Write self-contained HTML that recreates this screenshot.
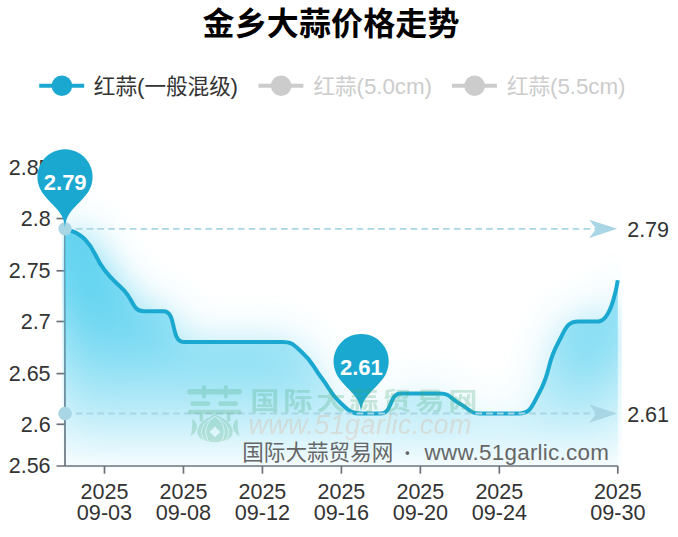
<!DOCTYPE html>
<html lang="zh"><head><meta charset="utf-8"><title>金乡大蒜价格走势</title>
<style>html,body{margin:0;padding:0;background:#fff}body{width:678px;height:537px;overflow:hidden;font-family:"Liberation Sans",sans-serif}svg{display:block}text{font-family:"Liberation Sans",sans-serif}text.cjk{font-family:"Liberation Sans","Noto Sans CJK SC",sans-serif}</style>
</head><body>
<svg width="678" height="537" viewBox="0 0 678 537">
<defs>
<linearGradient id="ag" gradientUnits="userSpaceOnUse" x1="0" y1="228.8" x2="0" y2="466.0"><stop offset="0" stop-color="#4ccdee" stop-opacity="0.84"/><stop offset="0.6" stop-color="#4ccdee" stop-opacity="0.33"/><stop offset="1" stop-color="#4ccdee" stop-opacity="0.03"/></linearGradient>
<linearGradient id="sg" gradientUnits="userSpaceOnUse" x1="0" y1="228.8" x2="0" y2="466.0"><stop offset="0" stop-color="#4ccdee" stop-opacity="1.0"/><stop offset="0.6" stop-color="#4ccdee" stop-opacity="0.38"/><stop offset="1" stop-color="#4ccdee" stop-opacity="0.0"/></linearGradient>
<filter id="blur" x="-20%" y="-50%" width="140%" height="200%"><feGaussianBlur stdDeviation="21"/></filter>
<clipPath id="gc"><rect x="62.3" y="100" width="559.4" height="369"/></clipPath>
</defs>
<rect width="100%" height="100%" fill="#fff"/>
<text class="cjk" x="202.5" y="34.5" font-size="32" font-weight="bold" fill="#000" textLength="257" lengthAdjust="spacing">金乡大蒜价格走势</text>
<line x1="39.2" y1="85.7" x2="84.2" y2="85.7" stroke="#1aa8d0" stroke-width="4"/>
<circle cx="61.900000000000006" cy="85.8" r="10.3" fill="#1aa8d0"/>
<text class="cjk" x="93.8" y="93.6" font-size="21.6" fill="#333">红蒜</text>
<text x="136.90" y="93.60" font-size="22.40" fill="#333" font-weight="normal" font-style="normal" >(</text>
<text class="cjk" x="144.4" y="93.6" font-size="21.6" fill="#333">一般混级</text>
<text x="230.38" y="93.60" font-size="22.40" fill="#333" font-weight="normal" font-style="normal" >)</text>
<line x1="258.4" y1="85.7" x2="303.4" y2="85.7" stroke="#ccc" stroke-width="4"/>
<circle cx="281.09999999999997" cy="85.8" r="10.3" fill="#ccc"/>
<text class="cjk" x="313.4" y="93.6" font-size="21.6" fill="#ccc">红蒜</text>
<text x="356.50" y="93.60" font-size="22.40" fill="#ccc" font-weight="normal" font-style="normal" textLength="75.42" lengthAdjust="spacing" >(5.0cm)</text>
<line x1="451.9" y1="85.7" x2="496.9" y2="85.7" stroke="#ccc" stroke-width="4"/>
<circle cx="474.59999999999997" cy="85.8" r="10.3" fill="#ccc"/>
<text class="cjk" x="506.9" y="93.6" font-size="21.6" fill="#ccc">红蒜</text>
<text x="550.00" y="93.60" font-size="22.40" fill="#ccc" font-weight="normal" font-style="normal" textLength="75.42" lengthAdjust="spacing" >(5.5cm)</text>
<g stroke="#6E7079" stroke-width="1.7" fill="none">
<path d="M65.0 167.1V466.0"/>
<path d="M56.5 466.0H617.8"/>
<path d="M56.5 167.10H65.0"/>
<path d="M56.5 218.55H65.0"/>
<path d="M56.5 270.80H65.0"/>
<path d="M56.5 321.50H65.0"/>
<path d="M56.5 373.60H65.0"/>
<path d="M56.5 424.30H65.0"/>
<path d="M104.49 466.0V473.7"/>
<path d="M183.46 466.0V473.7"/>
<path d="M262.43 466.0V473.7"/>
<path d="M341.40 466.0V473.7"/>
<path d="M420.37 466.0V473.7"/>
<path d="M499.34 466.0V473.7"/>
<path d="M617.80 466.0V473.7"/>
</g>
<text x="8.73" y="174.81" font-size="22.70" fill="#333" font-weight="normal" font-style="normal" textLength="41.87" lengthAdjust="spacingAndGlyphs" >2.85</text>
<text x="20.69" y="226.25" font-size="22.70" fill="#333" font-weight="normal" font-style="normal" textLength="29.91" lengthAdjust="spacingAndGlyphs" >2.8</text>
<text x="8.73" y="277.69" font-size="22.70" fill="#333" font-weight="normal" font-style="normal" textLength="41.87" lengthAdjust="spacingAndGlyphs" >2.75</text>
<text x="20.69" y="329.12" font-size="22.70" fill="#333" font-weight="normal" font-style="normal" textLength="29.91" lengthAdjust="spacingAndGlyphs" >2.7</text>
<text x="8.73" y="380.56" font-size="22.70" fill="#333" font-weight="normal" font-style="normal" textLength="41.87" lengthAdjust="spacingAndGlyphs" >2.65</text>
<text x="20.69" y="432.00" font-size="22.70" fill="#333" font-weight="normal" font-style="normal" textLength="29.91" lengthAdjust="spacingAndGlyphs" >2.6</text>
<text x="8.73" y="473.15" font-size="22.70" fill="#333" font-weight="normal" font-style="normal" textLength="41.87" lengthAdjust="spacingAndGlyphs" >2.56</text>
<text x="80.57" y="498.70" font-size="22.70" fill="#333" font-weight="normal" font-style="normal" textLength="47.84" lengthAdjust="spacingAndGlyphs" >2025</text>
<text x="76.83" y="519.70" font-size="22.70" fill="#333" font-weight="normal" font-style="normal" textLength="55.32" lengthAdjust="spacingAndGlyphs" >09-03</text>
<text x="159.54" y="498.70" font-size="22.70" fill="#333" font-weight="normal" font-style="normal" textLength="47.84" lengthAdjust="spacingAndGlyphs" >2025</text>
<text x="155.80" y="519.70" font-size="22.70" fill="#333" font-weight="normal" font-style="normal" textLength="55.32" lengthAdjust="spacingAndGlyphs" >09-08</text>
<text x="238.51" y="498.70" font-size="22.70" fill="#333" font-weight="normal" font-style="normal" textLength="47.84" lengthAdjust="spacingAndGlyphs" >2025</text>
<text x="234.77" y="519.70" font-size="22.70" fill="#333" font-weight="normal" font-style="normal" textLength="55.32" lengthAdjust="spacingAndGlyphs" >09-12</text>
<text x="317.48" y="498.70" font-size="22.70" fill="#333" font-weight="normal" font-style="normal" textLength="47.84" lengthAdjust="spacingAndGlyphs" >2025</text>
<text x="313.74" y="519.70" font-size="22.70" fill="#333" font-weight="normal" font-style="normal" textLength="55.32" lengthAdjust="spacingAndGlyphs" >09-16</text>
<text x="396.45" y="498.70" font-size="22.70" fill="#333" font-weight="normal" font-style="normal" textLength="47.84" lengthAdjust="spacingAndGlyphs" >2025</text>
<text x="392.71" y="519.70" font-size="22.70" fill="#333" font-weight="normal" font-style="normal" textLength="55.32" lengthAdjust="spacingAndGlyphs" >09-20</text>
<text x="475.42" y="498.70" font-size="22.70" fill="#333" font-weight="normal" font-style="normal" textLength="47.84" lengthAdjust="spacingAndGlyphs" >2025</text>
<text x="471.68" y="519.70" font-size="22.70" fill="#333" font-weight="normal" font-style="normal" textLength="55.32" lengthAdjust="spacingAndGlyphs" >09-24</text>
<text x="593.88" y="498.70" font-size="22.70" fill="#333" font-weight="normal" font-style="normal" textLength="47.84" lengthAdjust="spacingAndGlyphs" >2025</text>
<text x="590.14" y="519.70" font-size="22.70" fill="#333" font-weight="normal" font-style="normal" textLength="55.32" lengthAdjust="spacingAndGlyphs" >09-30</text>
<g clip-path="url(#gc)">
<path d="M65.00 228.84C65.00 228.84 77.28 231.35 84.74 239.13C97.02 251.92 93.38 255.53 104.49 269.99C113.13 281.24 114.36 280.28 124.23 290.56C134.10 300.85 132.31 311.14 143.97 311.14C152.05 311.14 156.80 311.14 163.71 311.14C176.54 311.14 170.63 342.00 183.46 342.00C190.37 342.00 193.33 342.00 203.20 342.00C213.07 342.00 213.07 342.00 222.94 342.00C232.81 342.00 232.81 342.00 242.69 342.00C252.56 342.00 252.56 342.00 262.43 342.00C272.30 342.00 272.89 342.00 282.17 342.00C292.63 342.00 293.88 344.96 301.91 352.29C313.62 362.96 311.79 365.15 321.66 378.01C331.53 390.87 329.64 393.16 341.40 403.73C349.39 410.90 350.73 413.50 361.14 413.50C370.47 413.50 372.75 413.50 380.89 413.50C392.49 413.50 389.02 393.44 400.63 393.44C408.77 393.44 410.50 393.44 420.37 393.44C430.24 393.44 430.83 393.44 440.11 393.44C450.58 393.44 449.93 398.68 459.86 403.73C469.68 408.71 469.19 413.50 479.60 413.50C488.93 413.50 489.47 413.50 499.34 413.50C509.21 413.50 510.95 413.50 519.09 413.50C530.69 413.50 532.15 405.53 538.83 393.44C551.90 369.78 545.56 365.73 558.57 342.00C565.30 329.72 566.65 321.42 578.31 321.42C586.39 321.42 592.10 321.42 598.06 321.42C611.84 321.42 617.80 280.27 617.80 280.27L617.80 466.00 L65.00 466.00 Z" fill="url(#sg)" filter="url(#blur)"/>
<path d="M65.00 228.84C65.00 228.84 77.28 231.35 84.74 239.13C97.02 251.92 93.38 255.53 104.49 269.99C113.13 281.24 114.36 280.28 124.23 290.56C134.10 300.85 132.31 311.14 143.97 311.14C152.05 311.14 156.80 311.14 163.71 311.14C176.54 311.14 170.63 342.00 183.46 342.00C190.37 342.00 193.33 342.00 203.20 342.00C213.07 342.00 213.07 342.00 222.94 342.00C232.81 342.00 232.81 342.00 242.69 342.00C252.56 342.00 252.56 342.00 262.43 342.00C272.30 342.00 272.89 342.00 282.17 342.00C292.63 342.00 293.88 344.96 301.91 352.29C313.62 362.96 311.79 365.15 321.66 378.01C331.53 390.87 329.64 393.16 341.40 403.73C349.39 410.90 350.73 413.50 361.14 413.50C370.47 413.50 372.75 413.50 380.89 413.50C392.49 413.50 389.02 393.44 400.63 393.44C408.77 393.44 410.50 393.44 420.37 393.44C430.24 393.44 430.83 393.44 440.11 393.44C450.58 393.44 449.93 398.68 459.86 403.73C469.68 408.71 469.19 413.50 479.60 413.50C488.93 413.50 489.47 413.50 499.34 413.50C509.21 413.50 510.95 413.50 519.09 413.50C530.69 413.50 532.15 405.53 538.83 393.44C551.90 369.78 545.56 365.73 558.57 342.00C565.30 329.72 566.65 321.42 578.31 321.42C586.39 321.42 592.10 321.42 598.06 321.42C611.84 321.42 617.80 280.27 617.80 280.27L617.80 466.00 L65.00 466.00 Z" fill="url(#ag)"/>
<path d="M65.00 228.84C65.00 228.84 77.28 231.35 84.74 239.13C97.02 251.92 93.38 255.53 104.49 269.99C113.13 281.24 114.36 280.28 124.23 290.56C134.10 300.85 132.31 311.14 143.97 311.14C152.05 311.14 156.80 311.14 163.71 311.14C176.54 311.14 170.63 342.00 183.46 342.00C190.37 342.00 193.33 342.00 203.20 342.00C213.07 342.00 213.07 342.00 222.94 342.00C232.81 342.00 232.81 342.00 242.69 342.00C252.56 342.00 252.56 342.00 262.43 342.00C272.30 342.00 272.89 342.00 282.17 342.00C292.63 342.00 293.88 344.96 301.91 352.29C313.62 362.96 311.79 365.15 321.66 378.01C331.53 390.87 329.64 393.16 341.40 403.73C349.39 410.90 350.73 413.50 361.14 413.50C370.47 413.50 372.75 413.50 380.89 413.50C392.49 413.50 389.02 393.44 400.63 393.44C408.77 393.44 410.50 393.44 420.37 393.44C430.24 393.44 430.83 393.44 440.11 393.44C450.58 393.44 449.93 398.68 459.86 403.73C469.68 408.71 469.19 413.50 479.60 413.50C488.93 413.50 489.47 413.50 499.34 413.50C509.21 413.50 510.95 413.50 519.09 413.50C530.69 413.50 532.15 405.53 538.83 393.44C551.90 369.78 545.56 365.73 558.57 342.00C565.30 329.72 566.65 321.42 578.31 321.42C586.39 321.42 592.10 321.42 598.06 321.42C611.84 321.42 617.80 280.27 617.80 280.27" fill="none" stroke="#1aa8d0" stroke-width="4" stroke-linejoin="round" stroke-linecap="butt"/>
</g>
<path d="M65.0 228.84H596" stroke="#a9d6e4" stroke-width="1.8" stroke-dasharray="6.7 4.1" fill="none"/>
<circle cx="65.0" cy="228.84" r="6.7" fill="#a9d6e4"/>
<path d="M617.2 228.84L589.2 219.64L596.2 228.84L589.2 238.04Z" fill="#a9d6e4"/>
<text x="627.20" y="236.84" font-size="22.70" fill="#333" font-weight="normal" font-style="normal" textLength="41.87" lengthAdjust="spacingAndGlyphs" >2.79</text>
<path d="M65.0 413.50H596" stroke="#a9d6e4" stroke-width="1.8" stroke-dasharray="6.7 4.1" fill="none"/>
<circle cx="65.0" cy="413.50" r="6.7" fill="#a9d6e4"/>
<path d="M617.2 413.50L589.2 404.30L596.2 413.50L589.2 422.70Z" fill="#a9d6e4"/>
<text x="627.20" y="421.50" font-size="22.70" fill="#333" font-weight="normal" font-style="normal" textLength="41.87" lengthAdjust="spacingAndGlyphs" >2.61</text>
<text class="cjk" x="242.2" y="460.2" font-size="21.6" fill="#666">国际大蒜贸易网</text>
<circle cx="407.4" cy="453.1" r="1.9" fill="#666"/>
<text x="424.60" y="460.20" font-size="22.40" fill="#666" font-weight="normal" font-style="normal" textLength="184.20" lengthAdjust="spacing" >www.51garlic.com</text>
<path d="M40.11 188.78 A27.60 27.60 0 1 1 89.89 188.78C82.74 203.72 65.00 209.52 65.00 228.84C65.00 209.52 47.26 203.72 40.11 188.78 Z" fill="#1aa8d0"/>
<text x="43.80" y="189.94" font-size="22.00" fill="#fff" font-weight="bold" font-style="normal" textLength="42.80" lengthAdjust="spacing" >2.79</text>
<path d="M336.25 373.44 A27.60 27.60 0 1 1 386.04 373.44C378.88 388.38 361.14 394.18 361.14 413.50C361.14 394.18 343.40 388.38 336.25 373.44 Z" fill="#1aa8d0"/>
<text x="339.94" y="374.60" font-size="22.00" fill="#fff" font-weight="bold" font-style="normal" textLength="42.80" lengthAdjust="spacing" >2.61</text>
<g opacity="0.25">
<g stroke="#44a873" stroke-linecap="round" fill="none">
<path stroke-width="5.6" d="M190 391.7H239.1"/>
<path stroke-width="4.1" d="M204.1 387V396.6M225.8 387V396.6"/>
<path stroke-width="4.8" d="M192.7 403.7H208M220.6 403.7H235.6"/>
<path stroke-width="4.5" d="M190.3 411.9H239.2"/>
<path stroke-width="3.6" stroke-linecap="butt" d="M201.3 413V421.5M228.6 413V421.5"/>
</g>
<g fill="#44a873">
<path d="M192.4 418.8C198.6 423 199.2 431.5 190.3 436.3C192.1 431 192.4 425 192.4 418.8Z"/>
<path d="M237.6 418.8C231.4 423 230.8 431.5 239.7 436.3C237.9 431 237.6 425 237.6 418.8Z"/>
<path d="M215 414.2C208 417.5 197.3 423 197.3 431.5C197.3 438.2 204 442.2 215 442.2C226 442.2 232.7 438.2 232.7 431.5C232.7 423 222 417.5 215 414.2Z"/>
</g>
<g fill="none" stroke="#fff" stroke-width="1.0" opacity="0.85">
<path d="M214.6 416.6C209.3 419.5 201.5 424 201.5 431.5C201.5 437 204.0 440.6 207.8 442.2"/>
<path d="M215.4 416.6C220.7 419.5 228.5 424 228.5 431.5C228.5 437 226.0 440.6 222.2 442.2"/>
<path d="M214.6 416.6C211.1 419.5 205.8 424 205.8 431.5C205.8 437 207.5 440.6 210.1 442.2"/>
<path d="M215.4 416.6C218.9 419.5 224.2 424 224.2 431.5C224.2 437 222.5 440.6 219.9 442.2"/>
</g>
<path d="M215 426.6L220.3 431.9L215 437.2L209.7 431.9Z" fill="#fff"/>
<text class="cjk" x="264.9" y="409.8" font-size="25" font-weight="bold" fill="#44a873" text-anchor="middle" transform="translate(264.9 0) scale(1.17 1) translate(-264.9 0)">国</text>
<text class="cjk" x="297.9" y="409.8" font-size="25" font-weight="bold" fill="#44a873" text-anchor="middle" transform="translate(297.9 0) scale(1.17 1) translate(-297.9 0)">际</text>
<text class="cjk" x="330.9" y="409.8" font-size="25" font-weight="bold" fill="#44a873" text-anchor="middle" transform="translate(330.9 0) scale(1.17 1) translate(-330.9 0)">大</text>
<text class="cjk" x="363.9" y="409.8" font-size="25" font-weight="bold" fill="#44a873" text-anchor="middle" transform="translate(363.9 0) scale(1.17 1) translate(-363.9 0)">蒜</text>
<text class="cjk" x="396.9" y="409.8" font-size="25" font-weight="bold" fill="#44a873" text-anchor="middle" transform="translate(396.9 0) scale(1.17 1) translate(-396.9 0)">贸</text>
<text class="cjk" x="429.9" y="409.8" font-size="25" font-weight="bold" fill="#44a873" text-anchor="middle" transform="translate(429.9 0) scale(1.17 1) translate(-429.9 0)">易</text>
<text class="cjk" x="462.9" y="409.8" font-size="25" font-weight="bold" fill="#44a873" text-anchor="middle" transform="translate(462.9 0) scale(1.17 1) translate(-462.9 0)">网</text>
</g>
<text x="248.4" y="434.2" font-size="27" font-style="italic" fill="#e8824a" opacity="0.18" textLength="223" lengthAdjust="spacing">www.51garlic.com</text>
</svg></body></html>
